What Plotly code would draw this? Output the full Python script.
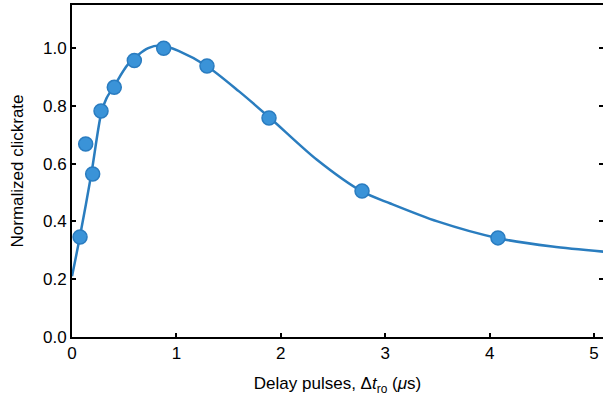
import plotly.graph_objects as go

# measured data points
delay_us = [0.077, 0.131, 0.198, 0.278, 0.405, 0.597, 0.878, 1.293, 1.887, 2.778, 4.08]
norm_rate = [0.346, 0.668, 0.564, 0.782, 0.864, 0.957, 0.999, 0.938, 0.758, 0.505, 0.343]

# fitted curve
fit_x = [0.0, 0.074, 0.185, 0.28, 0.33, 0.40, 0.54, 0.73, 0.87, 1.02, 1.29, 1.6, 1.9, 2.34, 2.78, 3.05, 3.5, 4.08, 4.6, 5.1]
fit_y = [0.21, 0.344, 0.564, 0.775, 0.826, 0.866, 0.945, 1.0, 1.008, 0.99, 0.938, 0.85, 0.757, 0.615, 0.503, 0.462, 0.40, 0.342, 0.313, 0.295]

x_ticks = [0, 1, 2, 3, 4, 5]
y_ticks = [0.0, 0.2, 0.4, 0.6, 0.8, 1.0]

font_family = "Liberation Sans, Arial, sans-serif"

fig = go.Figure()
fig.add_trace(go.Scatter(
    x=fit_x, y=fit_y, mode="lines",
    line=dict(color="#2a7dbf", width=2.5, shape="spline", smoothing=0.8),
    hoverinfo="skip", showlegend=False,
))
fig.add_trace(go.Scatter(
    x=delay_us, y=norm_rate, mode="markers",
    marker=dict(size=14, color="#3a93d8", line=dict(color="#2a7cc0", width=1.5)),
    showlegend=False,
))

fig.update_layout(
    width=603, height=399,
    margin=dict(l=72, r=0, t=5, b=62),
    paper_bgcolor="white", plot_bgcolor="white",
    font=dict(family=font_family, size=17, color="black"),
)
fig.update_xaxes(
    range=[0, 5.086], tickvals=x_ticks, ticktext=[str(v) for v in x_ticks],
    showline=True, linecolor="black", linewidth=2, mirror=True,
    ticks="inside", ticklen=4, tickwidth=1.5, tickcolor="black",
    showgrid=False, zeroline=False, automargin=False,
    title=dict(text="Delay pulses, Δ<i>t</i><sub>ro</sub> (<i>μ</i>s)", font=dict(size=17)),
    tickfont=dict(size=17),
)
fig.update_yaxes(
    range=[0, 1.149], tickvals=y_ticks, ticktext=[f"{v:.1f}" for v in y_ticks],
    showline=True, linecolor="black", linewidth=2, mirror="ticks",
    ticks="inside", ticklen=4, tickwidth=1.5, tickcolor="black",
    showgrid=False, zeroline=False, automargin=False,
    title=dict(text="Normalized clickrate", font=dict(size=17)),
    tickfont=dict(size=17),
)

fig.write_html(
    "out.html",
    config={"displayModeBar": False},
    post_script="document.body.style.margin='0';document.body.style.overflow='hidden';",
)
